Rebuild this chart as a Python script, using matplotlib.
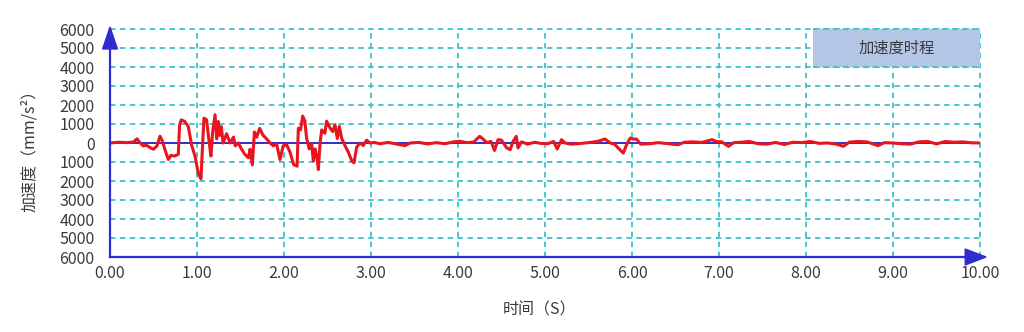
import matplotlib
matplotlib.use("Agg")
import matplotlib.pyplot as plt
from matplotlib.patches import Rectangle, Polygon

plt.rcParams['font.family'] = ['Noto Sans CJK SC', 'DejaVu Sans']

# ---- data ----
time_s = [0, 0.1, 0.2, 0.27, 0.31, 0.34, 0.38, 0.42, 0.46, 0.5, 0.54, 0.575, 0.6, 0.63,
          0.67, 0.7, 0.74, 0.785, 0.8, 0.82, 0.86, 0.9, 0.94, 0.977, 1.015, 1.046, 1.06,
          1.08, 1.11, 1.14, 1.16, 1.18, 1.207, 1.226, 1.245, 1.26, 1.28, 1.30, 1.34, 1.38,
          1.42, 1.44, 1.475, 1.513, 1.55, 1.59, 1.61, 1.636, 1.66, 1.686, 1.72, 1.76, 1.80,
          1.84, 1.877, 1.915, 1.954, 1.99, 2.03, 2.07, 2.11, 2.15, 2.165, 2.19, 2.215, 2.24,
          2.26, 2.29, 2.318, 2.337, 2.356, 2.375, 2.395, 2.414, 2.433, 2.47, 2.49, 2.53,
          2.56, 2.586, 2.613, 2.636, 2.663, 2.70, 2.74, 2.78, 2.805, 2.835, 2.873, 2.91,
          2.95, 2.988, 3.04, 3.1, 3.2, 3.3, 3.39, 3.45, 3.55, 3.65, 3.75, 3.85, 3.95, 4.02,
          4.1, 4.18, 4.25, 4.29, 4.33, 4.38, 4.42, 4.46, 4.5, 4.56, 4.6, 4.63, 4.67, 4.69,
          4.73, 4.8, 4.88, 4.95, 5.03, 5.1, 5.14, 5.19, 5.23, 5.3, 5.4, 5.5, 5.6, 5.69,
          5.75, 5.8, 5.84, 5.9, 5.94, 5.98, 6.02, 6.05, 6.1, 6.2, 6.3, 6.4, 6.53, 6.6, 6.7,
          6.8, 6.92, 6.97, 7.03, 7.11, 7.17, 7.25, 7.35, 7.45, 7.55, 7.65, 7.75, 7.85, 7.95,
          8.05, 8.15, 8.25, 8.35, 8.43, 8.5, 8.6, 8.7, 8.83, 8.9, 9.0, 9.1, 9.2, 9.3, 9.4,
          9.5, 9.6, 9.7, 9.8, 9.9, 10.0]
accel = [0, 40, 20, 50, 220, 40, -150, -120, -240, -330, -150, 360, 130, -330,
         -870, -650, -690, -600, 950, 1220, 1130, 860, -150, -690, -1600, -1880, -510,
         1310, 1220, 40, -690, 580, 1490, 220, 1130, 400, 860, 0, 490, 0,
         310, -150, 0, -330, -600, -780, -330, -1150, 580, 310, 770, 400, 220,
         0, -150, -50, -870, -150, -90, -490, -1130, -1220, 780, 690, 1420, 1150,
         240, -310, -40, -950, -310, -670, -1400, -40, 690, 510, 1150, 780,
         600, 960, 240, 870, 240, -130, -490, -950, -1040, -220, 0, -130,
         150, 0, 30, -40, 30, -60, -140, 0, 30, -50, 20, -40, 60, 90,
         20, 50, 350, 200, 20, 80, -390, 175, 150, -260, -350, 60, 350, -260,
         60, -60, 40, -20, -40, 80, -320, 175, 0, -60, -30, 20, 80, 210,
         0, -60, -260, -530, -60, 260, 200, 210, -60, -40, 20, -30, -90, 40, 60,
         30, 175, 80, 60, -175, 20, 40, 80, -40, -60, 30, -80, 40, 20,
         80, -20, 0, -60, -175, 50, 80, 60, -140, 20, 0, -40, -60, 60, 80,
         -50, 80, 40, 60, 10, 0]
x_ticks = [0, 1, 2, 3, 4, 5, 6, 7, 8, 9, 10]
x_tick_labels = ["0.00", "1.00", "2.00", "3.00", "4.00", "5.00", "6.00", "7.00", "8.00", "9.00", "10.00"]
y_ticks = [-6000, -5000, -4000, -3000, -2000, -1000, 0, 1000, 2000, 3000, 4000, 5000, 6000]
y_tick_labels = ["6000", "5000", "4000", "3000", "2000", "1000", "0", "1000", "2000", "3000", "4000", "5000", "6000"]
legend_label = "加速度时程"

# ---- styles ----
blue = "#2d2dd0"
grid_c = "#3cc3c8"
red = "#e8141e"
txt = "#3a3a3a"

fig = plt.figure(figsize=(10.24, 3.32), dpi=100)
ax = fig.add_axes([110/1024, 1 - 257/332, 870/1024, 228/332])
ax.set_xlim(0, 10)
ax.set_ylim(-6000, 6000)

dash = (0, (3, 2.5))
# grid
for xv in x_ticks[1:]:
    ax.plot([xv, xv], [-6000, 6000], color=grid_c, lw=1.3, ls=dash, zorder=1, clip_on=False)
for yv in y_ticks[1:]:
    if yv == 0:
        continue
    ax.plot([0, 10], [yv, yv], color=grid_c, lw=1.3, ls=dash, zorder=1, clip_on=False)

# legend box
ax.add_patch(Rectangle((8.08, 4000), 10 - 8.08, 2000, facecolor="#b4c6e6", edgecolor="none", zorder=2))
ax.plot([8.08, 10], [6000, 6000], color=grid_c, lw=1.3, ls=dash, zorder=2.5, clip_on=False)
ax.plot([8.08, 10], [4000, 4000], color=grid_c, lw=1.3, ls=dash, zorder=2.5, clip_on=False)
ax.text(9.04, 5000, legend_label, ha="center", va="center", fontsize=11, color=txt, zorder=3)

# zero line and data
ax.plot([0, 10], [0, 0], color=blue, lw=1.4, zorder=3)
ax.plot(time_s, accel, color=red, lw=2.2, zorder=4, solid_joinstyle="round")

# spines
for s in ["top", "right"]:
    ax.spines[s].set_visible(False)
for s in ["left", "bottom"]:
    ax.spines[s].set_color(blue)
    ax.spines[s].set_linewidth(1.6)
    ax.spines[s].set_zorder(5)

# arrows
ax.add_patch(Polygon([[-0.085, 4950], [0.085, 4950], [0, 6100]], closed=True, facecolor=blue,
                     edgecolor=blue, zorder=6, clip_on=False))
ax.add_patch(Polygon([[9.83, -5580], [9.83, -6420], [10.07, -6000]], closed=True, facecolor=blue,
                     edgecolor=blue, zorder=6, clip_on=False))

ax.set_xticks(x_ticks)
ax.set_xticklabels(x_tick_labels)
ax.set_yticks(y_ticks)
ax.set_yticklabels(y_tick_labels)
ax.tick_params(axis="both", length=0, labelsize=11.5, labelcolor=txt)
ax.tick_params(axis="y", pad=11)
ax.tick_params(axis="x", pad=6)
ax.set_facecolor("white")

fig.text(30/1024, 1 - 147/332, "加速度（mm/s²）", rotation=90, ha="center", va="center",
         fontsize=11.5, color=txt)
fig.text(540/1024, 1 - 310/332, "时间（S）", ha="center", va="center", fontsize=11.5, color=txt)

fig.savefig("out.png", dpi=100, facecolor="white")
